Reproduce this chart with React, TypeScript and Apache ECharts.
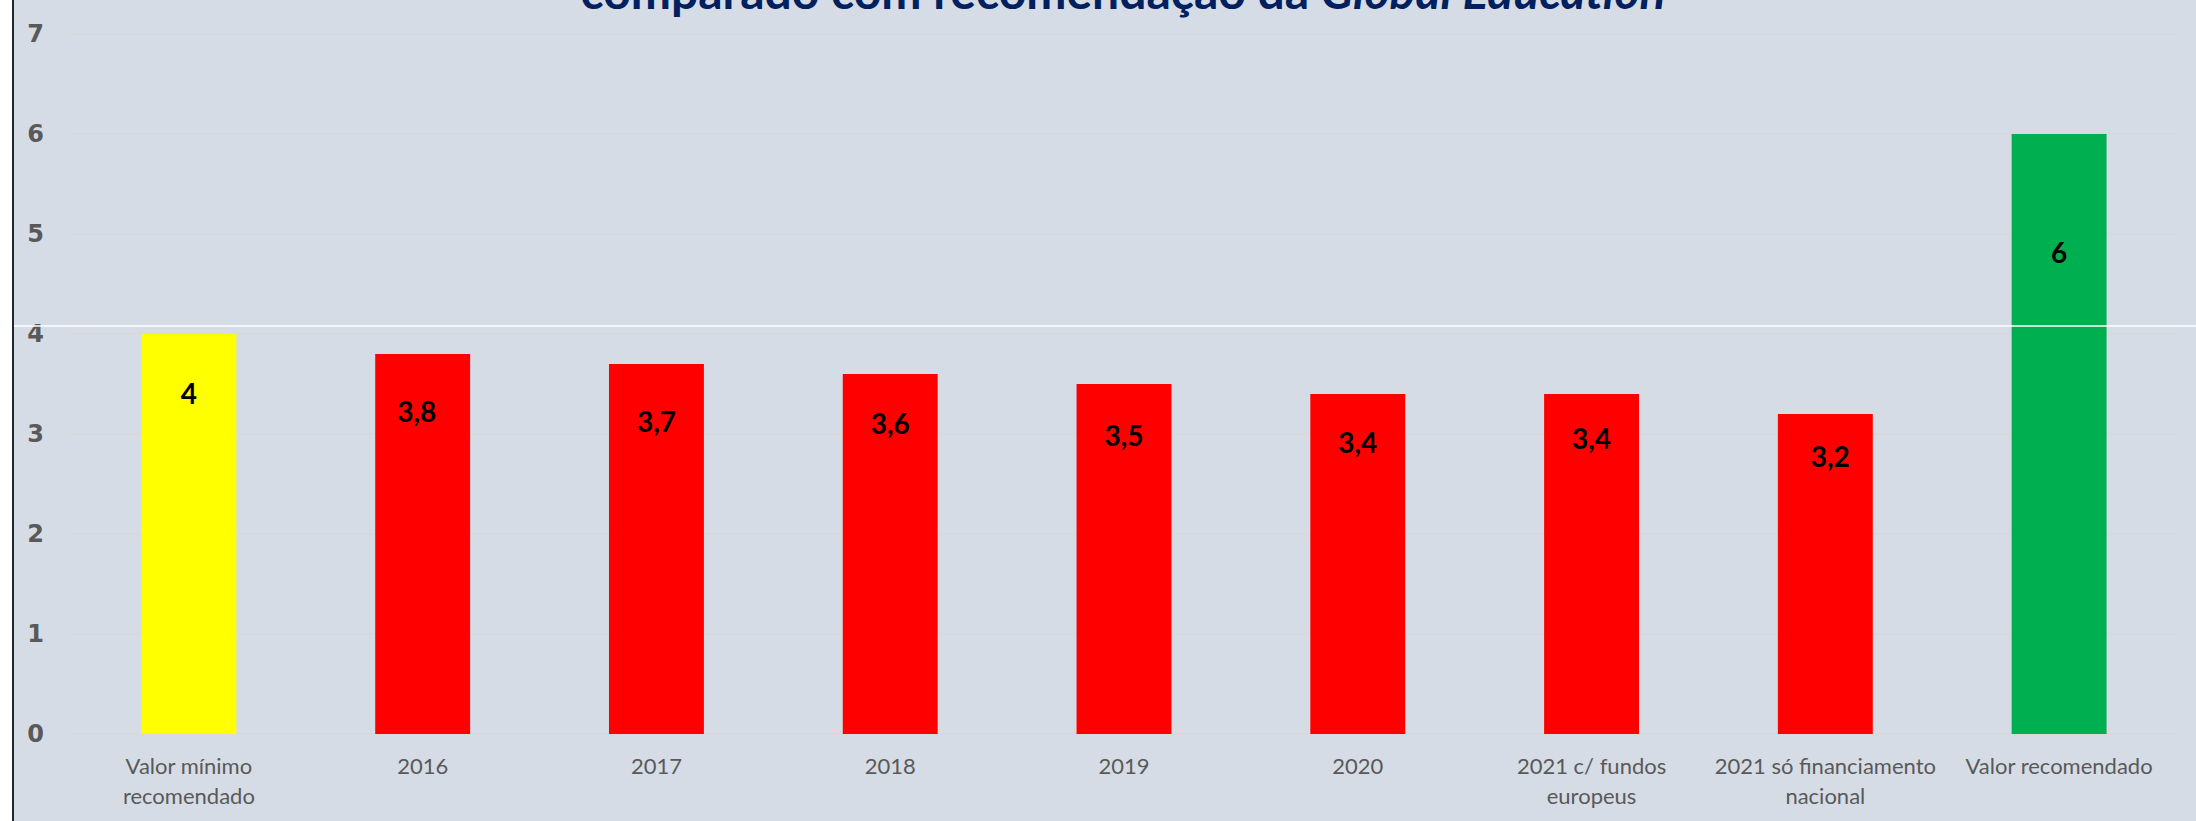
import React, { useEffect, useRef } from "react";
import * as echarts from "echarts";

const categories = [
  "Valor mínimo\nrecomendado",
  "2016",
  "2017",
  "2018",
  "2019",
  "2020",
  "2021 c/ fundos\neuropeus",
  "2021 só financiamento\nnacional",
  "Valor recomendado",
];
const values = [4, 3.8, 3.7, 3.6, 3.5, 3.4, 3.4, 3.2, 6];
const barColors = ["#FFFF00", "#FF0000", "#FF0000", "#FF0000", "#FF0000", "#FF0000", "#FF0000", "#FF0000", "#00B050"];
const labelOffsets: [number, number][] = [
  [0, 45], [-6, 43], [0, 43], [0, 35], [0, 37], [0, 34], [0, 30], [5, 28], [0, 104],
];
const yTicks = { min: 0, max: 7, interval: 1 };
const titleText = "comparado com recomendação da ";
const titleItalic = "Global Education";

export default function App() {
  const ref = useRef<HTMLDivElement>(null);
  useEffect(() => {
    if (!ref.current) return;
    const chart = echarts.init(ref.current, undefined, { renderer: "svg" });
    chart.setOption({
      animation: false,
      backgroundColor: "#D6DCE5",
      grid: { left: 58, right: 20, top: 34, bottom: 87, containLabel: false },
      graphic: [
        {
          type: "text",
          x: 1109,
          y: -10,
          z: 100,
          style: {
            text: `{a|${titleText}}{b|${titleItalic}}`,
            align: "center",
            verticalAlign: "middle",
            rich: {
              a: { fontFamily: "Lato", fontWeight: "bold", fontSize: 48, fill: "#002060", color: "#002060" },
              b: { fontFamily: "Lato", fontWeight: "bold", fontStyle: "italic", fontSize: 48, fill: "#002060", color: "#002060" },
            },
          },
        },
        {
          type: "line",
          z: 100,
          shape: { x1: 0, y1: 326, x2: 2200, y2: 326 },
          style: { stroke: "#FFFFFF", lineWidth: 1.5 },
        },
      ],
      xAxis: {
        type: "category",
        data: categories,
        axisLine: { show: false },
        axisTick: { show: false },
        axisLabel: {
          color: "#595959",
          fontFamily: "Lato",
          fontSize: 22,
          lineHeight: 30,
          margin: 16,
          interval: 0,
        },
      },
      yAxis: {
        type: "value",
        min: yTicks.min,
        max: yTicks.max,
        interval: yTicks.interval,
        axisLine: { show: false },
        axisTick: { show: false },
        splitLine: { lineStyle: { color: "#D9D9D9", width: 1.5 } },
        axisLabel: {
          color: "#595959",
          fontFamily: "DejaVu Sans",
          fontWeight: "bold",
          fontSize: 24,
          margin: 28,
        },
      },
      series: [
        {
          type: "bar",
          barWidth: "40.6%",
          data: values.map((v, i) => ({
            value: v,
            itemStyle: { color: barColors[i] },
            label: {
              show: true,
              position: "insideTop",
              distance: 0,
              offset: labelOffsets[i],
              formatter: () => String(v).replace(".", ","),
              color: "#000000",
              fontFamily: "Lato",
              fontWeight: "bold",
              fontSize: 28,
              lineHeight: 28,
            },
          })),
        },
      ],
    });
    return () => chart.dispose();
  }, []);
  return (
    <div
      ref={ref}
      style={{
        position: "fixed",
        left: 12,
        top: 0,
        width: 2182,
        height: 821,
        borderLeft: "2px solid #262626",
      }}
    />
  );
}
